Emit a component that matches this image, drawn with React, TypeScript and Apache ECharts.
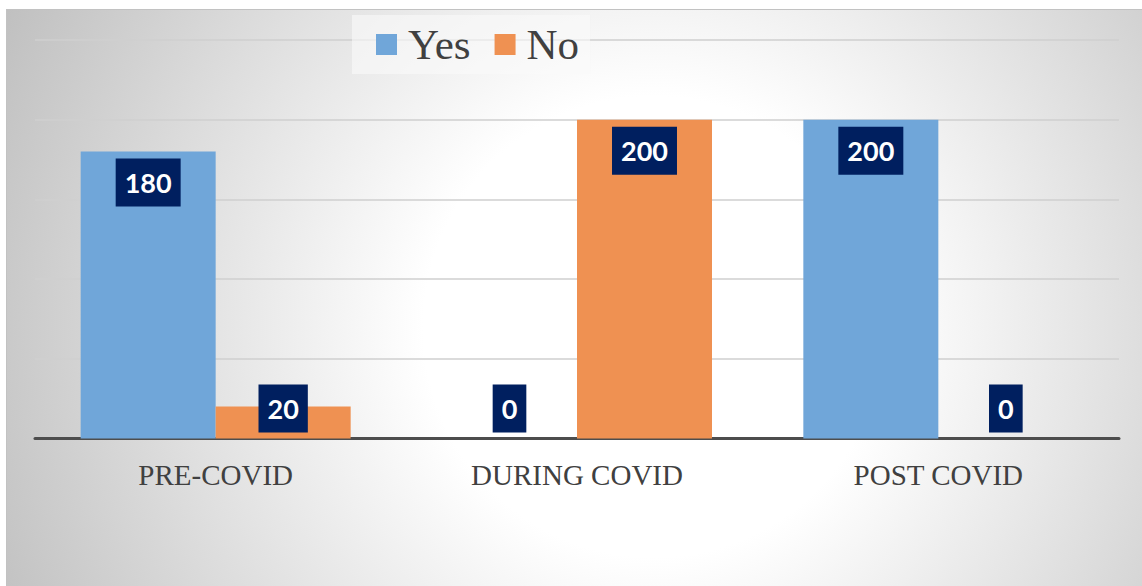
import React, { useEffect, useRef } from "react";
import * as echarts from "echarts";

const categories = ["PRE-COVID", "DURING COVID", "POST COVID"];
const yesValues = [180, 0, 200];
const noValues = [20, 200, 0];
const seriesNames = ["Yes", "No"];

const BLUE = "#70a6d9";
const ORANGE = "#ef9152";
const LABEL_BG = "#001f5f";

function buildData(values: number[]) {
  return values.map((v) => ({
    value: v,
    label:
      v >= 100
        ? { position: "insideTop", distance: 7 }
        : { position: "insideBottom", distance: 6 },
  }));
}

const labelStyle = {
  show: true,
  color: "#ffffff",
  fontFamily: "Lato, 'Open Sans', sans-serif",
  fontWeight: "bold",
  fontSize: 27,
  lineHeight: 30,
  backgroundColor: LABEL_BG,
  padding: [9, 9, 9, 9],
};

export default function App() {
  const ref = useRef<HTMLDivElement>(null);
  useEffect(() => {
    if (!ref.current) return;
    const chart = echarts.init(ref.current, null, { renderer: "svg" });
    chart.setOption({
      animation: false,
      backgroundColor: "transparent",
      legend: {
        data: seriesNames,
        left: 345,
        top: 5,
        orient: "horizontal",
        icon: "rect",
        itemWidth: 21,
        itemHeight: 21,
        itemGap: 24,
        padding: [8, 11, 8, 24],
        backgroundColor: "rgba(250,250,250,0.6)",
        textStyle: {
          fontFamily: "'Liberation Serif', 'Times New Roman', serif",
          fontSize: 43,
          lineHeight: 43,
          color: "#404040",
          padding: [0, 0, 0, 6],
        },
      },
      grid: {
        left: 28,
        right: 1135 - 28 - 1084,
        top: 30,
        bottom: 576 - 30 - 398.5,
        containLabel: false,
      },
      xAxis: {
        type: "category",
        data: categories,
        axisLine: { show: true, lineStyle: { color: "#4d4d4d", width: 3 } },
        axisTick: { show: false },
        axisLabel: {
          margin: 22,
          fontFamily: "'Liberation Serif', 'Times New Roman', serif",
          fontSize: 29,
          color: "#404040",
        },
        splitLine: { show: false },
      },
      yAxis: {
        type: "value",
        min: 0,
        max: 250,
        interval: 50,
        axisLabel: { show: false },
        axisLine: { show: false },
        axisTick: { show: false },
        splitLine: { show: true, lineStyle: { color: "#cfcfcf", width: 1.5 } },
      },
      series: [
        {
          name: seriesNames[0],
          type: "bar",
          data: buildData(yesValues),
          barWidth: 135,
          barGap: "0%",
          itemStyle: { color: BLUE },
          label: labelStyle,
        },
        {
          name: seriesNames[1],
          type: "bar",
          data: buildData(noValues),
          barWidth: 135,
          barGap: "0%",
          itemStyle: { color: ORANGE },
          label: labelStyle,
        },
      ],
    });
    return () => chart.dispose();
  }, []);

  return (
    <div
      style={{
        position: "absolute",
        left: 0,
        top: 0,
        width: 1142,
        height: 586,
        background: "#ffffff",
        overflow: "hidden",
      }}
    >
      <div
        style={{
          position: "absolute",
          left: 6,
          top: 9,
          width: 1136,
          height: 577,
          background: "#c2c2c2",
        }}
      >
        <div
          ref={ref}
          style={{
            position: "absolute",
            left: 1,
            top: 1,
            width: 1135,
            height: 576,
            background:
              "radial-gradient(circle farthest-corner at 57% 55%, #ffffff 0%, #ffffff 32%, #c0c0c0 100%)",
          }}
        />
      </div>
    </div>
  );
}
